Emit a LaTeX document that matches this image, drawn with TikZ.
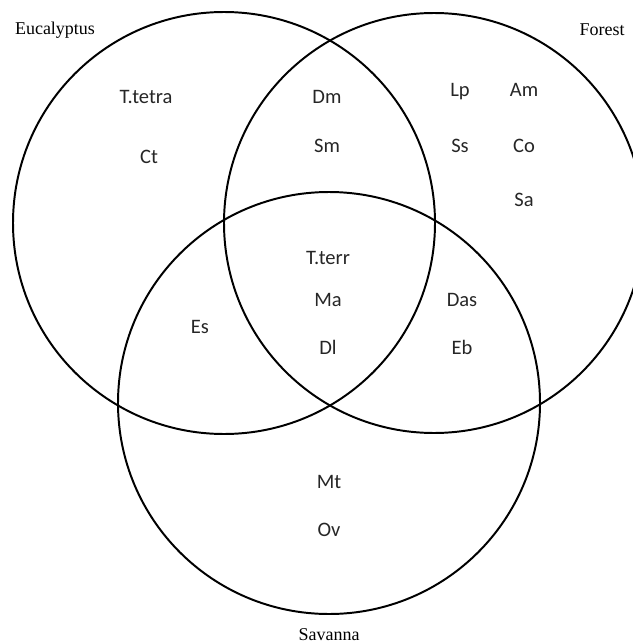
\documentclass[tikz,border=0pt]{standalone}
\usepackage{fontspec}
\setmainfont{Liberation Serif}
\newfontfamily\calib{Carlito}
\tikzset{
  setname/.style={font=\fontsize{12.8}{15}\selectfont},
  species/.style={font=\calib\fontsize{14.6}{17}\selectfont, text=black!85,
    text height=1.6ex, text depth=0.4ex, yshift=-2pt},
  ring/.style={line width=1.4pt}
}
\begin{document}
\begin{tikzpicture}[x=0.025cm, y=-0.025cm]
\def\radius{211}

\useasboundingbox (0,0) rectangle (632,644);

\draw[ring] (224,223) circle (\radius);
\draw[ring] (434,223) circle (210);
\draw[ring] (329,403) circle (\radius);

\node[setname] (eucal) at (55,30) {Eucalyptus};
\node[setname] (forest) at (602,30) {Forest};
\node[setname] (savanna) at (329,635) {Savanna};

\node[species] (ttetra) at (146,97) {T.tetra};
\node[species] (ct) at (149,157) {Ct};
\node[species] (dm) at (327,97) {Dm};
\node[species] (sm) at (327,146) {Sm};
\node[species] (lp) at (460,90) {Lp};
\node[species] (am) at (524,90) {Am};
\node[species] (ss) at (460,146) {Ss};
\node[species] (co) at (524,146) {Co};
\node[species] (sa) at (524,200) {Sa};
\node[species] (tterr) at (328,258) {T.terr};
\node[species] (ma) at (328,300) {Ma};
\node[species] (dl) at (328,348) {Dl};
\node[species] (es) at (200,327) {Es};
\node[species] (das) at (462,300) {Das};
\node[species] (eb) at (462,348) {Eb};
\node[species] (mt) at (329,482) {Mt};
\node[species] (ov) at (329,530) {Ov};
\end{tikzpicture}
\end{document}
